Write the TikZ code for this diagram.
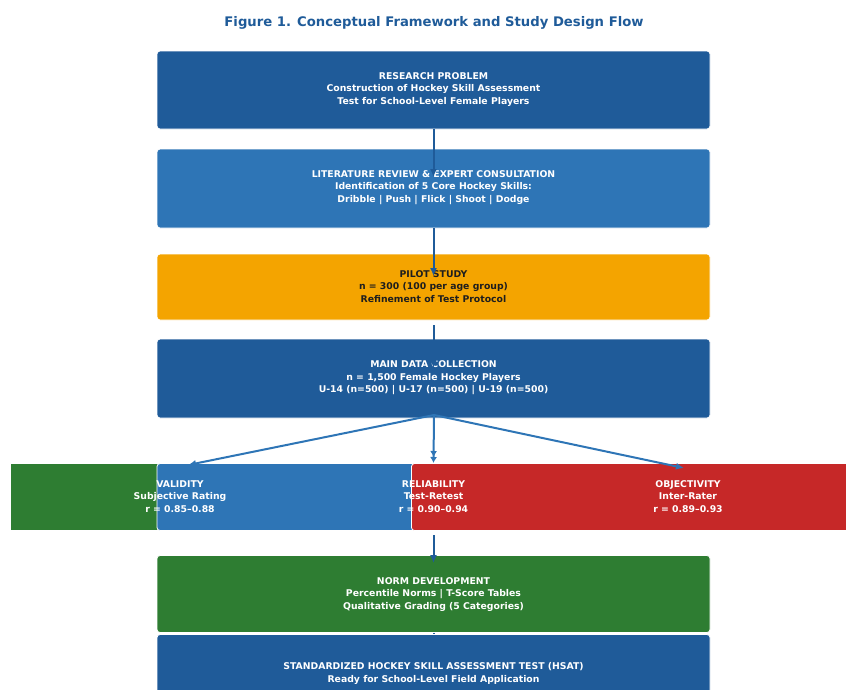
\documentclass[tikz,border=0pt]{standalone}
\usepackage{fontspec}
\setmainfont{DejaVu Sans}
\usetikzlibrary{arrows.meta}
\definecolor{dblue}{HTML}{1F5B99}
\definecolor{mblue}{HTML}{2E75B6}
\definecolor{orng}{HTML}{F4A400}
\definecolor{grn}{HTML}{2E7D32}
\definecolor{rd}{HTML}{C62828}
\definecolor{dtext}{HTML}{1E1E1E}
\begin{document}
\begin{tikzpicture}[x=1pt,y=-1pt,
  box/.style={draw=white,line width=0.8pt,rounded corners=3pt,minimum width=553pt,inner sep=0pt},
  txt/.style={text=white,align=center,font=\fontsize{9.3}{12.5}\selectfont\bfseries,inner sep=0pt},
  conn/.style={draw=dblue,line width=2pt,-{Latex[length=8pt,width=7pt]}},
  bconn/.style={draw=mblue,line width=2pt,-{Latex[length=8pt,width=7pt]}}]
\useasboundingbox (0,0) rectangle (846,689);
\clip (0,0) rectangle (846,689);
% title
\node[text=dblue,font=\fontsize{13.2}{15}\selectfont\bfseries] (title) at (434,23) {Figure 1. Conceptual Framework and Study Design Flow};
% boxes
\node[box,fill=dblue,minimum height=78pt] (rp) at (433.5,90) {};
\node[box,fill=mblue,minimum height=79pt] (lr) at (433.5,188.5) {};
\node[box,fill=orng,minimum height=66pt] (ps) at (433.5,287) {};
\node[box,fill=dblue,minimum height=79pt] (md) at (433.5,378.5) {};
\node[draw=white,line width=0.8pt,fill=grn,minimum width=340pt,minimum height=67pt,inner sep=0pt] (valbox) at (180,497) {};
\node[box,fill=mblue,minimum height=67pt] (relbox) at (433.5,497) {};
\node[box,fill=rd,minimum height=67pt] (objbox) at (688,497) {};
\node[box,fill=grn,minimum height=77pt] (nd) at (433.5,594) {};
\node[box,fill=dblue,minimum height=78pt] (hs) at (433.5,673.5) {};
% texts
\node[txt] (rpt) at (433.5,89.5) {RESEARCH PROBLEM\\Construction of Hockey Skill Assessment\\Test for School-Level Female Players};
\node[txt] (lrt) at (433.5,187.5) {LITERATURE REVIEW \& EXPERT CONSULTATION\\Identification of 5 Core Hockey Skills:\\Dribble | Push | Flick | Shoot | Dodge};
\node[txt,text=dtext] (pst) at (433.5,286.5) {PILOT STUDY\\n = 300 (100 per age group)\\Refinement of Test Protocol};
\node[txt] (mdt) at (433.5,378) {MAIN DATA COLLECTION\\n = 1,500 Female Hockey Players\\U-14 (n=500) | U-17 (n=500) | U-19 (n=500)};
\node[txt] (valt) at (180,496.5) {VALIDITY\\Subjective Rating\\r = 0.85--0.88};
\node[txt] (relt) at (433.5,496.5) {RELIABILITY\\Test-Retest\\r = 0.90--0.94};
\node[txt] (objt) at (688,496.5) {OBJECTIVITY\\Inter-Rater\\r = 0.89--0.93};
\node[txt] (ndt) at (433.5,594.5) {NORM DEVELOPMENT\\Percentile Norms | T-Score Tables\\Qualitative Grading (5 Categories)};
\node[txt] (hst) at (433.5,673.5) {STANDARDIZED HOCKEY SKILL ASSESSMENT TEST (HSAT)\\Ready for School-Level Field Application};
% connector endpoints
\coordinate (a1) at (433.5,177);
\coordinate (a2) at (433.5,276);
\coordinate (s3) at (433.5,325);
\coordinate (a3) at (433.5,368);
\coordinate (br) at (434,415);
\coordinate (av) at (188,465);
\coordinate (ar) at (433.5,463);
\coordinate (ao) at (684,468);
\coordinate (s5) at (433.5,535);
\coordinate (a5) at (433.5,563);
% connectors
\draw[conn] (rp.south) -- (a1);
\draw[conn] (lr.south) -- (a2);
\draw[conn] (s3) -- (a3);
\draw[bconn] (br) -- (av);
\draw[bconn,-{Latex[length=6pt,width=7pt]Latex[length=6pt,width=7pt]}] (br) -- (ar);
\draw[bconn] (br) -- (ao);
\draw[conn] (s5) -- (a5);
\draw[draw=dblue,line width=2pt] (nd.south) -- (hs.north);
\end{tikzpicture}
\end{document}
